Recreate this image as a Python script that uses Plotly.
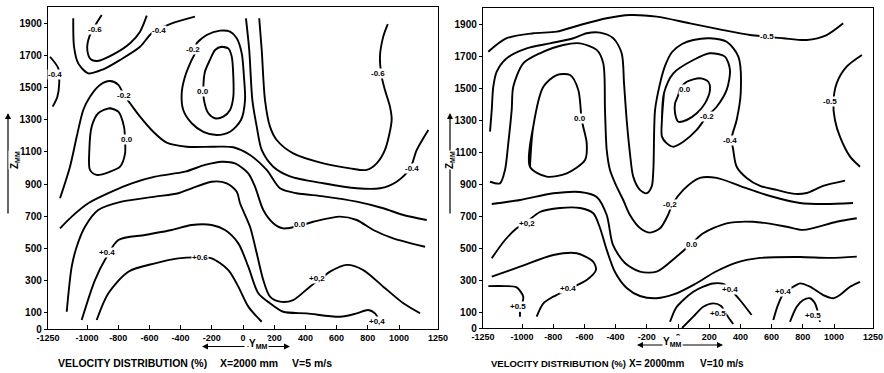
import plotly.graph_objects as go

# ================= DATA (Y in mm, Z in mm) =================
# ---- Left panel: V = 5 m/s ----
L_m06_topleft = [(-906,1950),(-985,1816),(-998,1733),(-976,1675),(-934,1665),(-831,1706),(-724,1775),(-660,1847),(-617,1946)]
L_m04_topleft = [(-1088,1930),(-1083,1753),(-1056,1650),(-992,1588),(-896,1613),(-788,1671),(-660,1753),(-585,1837),(-468,1894),(-308,1940)]
L_m04_edge = [(-1237,1691),(-1184,1619),(-1178,1526),(-1190,1443),(-1220,1381)]
L_m02_loop = [(-297,1775),(-233,1826),(-147,1853),(-83,1847),(-40,1806),(-8,1712),(6,1567),(13,1422),(-13,1298),(-83,1225),(-169,1205),(-254,1225),(-329,1278),(-383,1360),(-393,1464),(-372,1567),(-329,1671),(-308,1712)]
L_00_loop_center = [(-137,1753),(-94,1743),(-72,1691),(-62,1567),(-62,1443),(-83,1360),(-126,1319),(-179,1309),(-222,1340),(-250,1422),(-254,1505),(-244,1598),(-212,1671),(-179,1733)]
L_m04_long = [(19,1930),(40,1733),(60,1422),(88,1257),(120,1112),(194,1008),(301,948),(515,905),(729,874),(878,874),(985,915),(1071,998),(1114,1112),(1188,1236)]
L_m06_U = [(104,1930),(120,1733),(141,1422),(173,1257),(216,1174),(322,1091),(515,1029),(686,998),(793,988),(857,1029),(910,1112),(953,1298),(942,1381),(910,1484),(889,1567),(878,1694),(899,1816),(928,1894)]
L_m02_outer = [(-1173,812),(-1109,1008),(-1066,1194),(-1024,1360),(-981,1443),(-917,1516),(-853,1540),(-799,1516),(-763,1453),(-724,1402),(-660,1319),(-575,1225),(-489,1157),(-361,1132),(-190,1132),(-62,1129),(45,1081),(152,988),(237,874),(344,843),(515,824),(729,791),(899,750),(1028,708),(1178,677)]
L_00_loop_left = [(-853,1371),(-799,1350),(-763,1257),(-756,1174),(-756,1091),(-788,1008),(-853,977),(-938,957),(-981,988),(-985,1112),(-970,1257),(-928,1340)]
L_00_main = [(-1173,625),(-1098,698),(-992,781),(-842,853),(-713,905),(-564,946),(-372,977),(-244,1019),(-137,1039),(-51,1029),(34,967),(77,884),(130,739),(194,657),(258,625),(365,642),(451,666),(622,698),(729,677),(835,615),(963,563),(1167,511)]
L_p02 = [(-1130,107),(-1098,387),(-1066,511),(-1013,635),(-928,739),(-778,791),(-564,822),(-415,843),(-329,874),(-201,915),(-104,905),(-40,853),(-19,781),(45,635),(88,470),(130,304),(173,201),(237,170),(322,180),(429,263),(515,325),(558,356),(665,398),(771,366),(899,263),(1028,160),(1135,98)]
L_p04 = [(-1034,56),(-949,304),(-874,449),(-799,553),(-628,584),(-457,615),(-329,646),(-201,646),(-115,615),(-30,532),(34,387),(98,222),(173,160),(258,107),(408,97),(622,76),(729,97),(803,118),(846,97),(878,45),(891,19)]
L_p06 = [(-938,56),(-863,222),(-735,356),(-564,408),(-415,439),(-287,445),(-201,439),(-94,366),(-30,263),(34,139),(120,45)]

LEFT_OPEN = [L_m06_topleft, L_m04_topleft, L_m04_edge, L_m04_long, L_m06_U, L_m02_outer, L_00_main, L_p02, L_p04, L_p06]
LEFT_CLOSED = [L_m02_loop, L_00_loop_center, L_00_loop_left]

LEFT_LABEL_TEXT = ["-0.6", "-0.4", "-0.4", "-0.2", "-0.2", "0.0", "0.0", "-0.6", "-0.4", "0.0", "+0.4", "+0.6", "+0,2", "+0,4"]
LEFT_LABEL_Y = [-949, -537, -1205, -319, -763, -254, -746, 867, 1081, 365, -874, -276, 472, 857]
LEFT_LABEL_Z = [1861, 1857, 1578, 1737, 1453, 1474, 1174, 1584, 998, 646, 474, 443, 315, 45]

# ---- Right panel: V = 10 m/s ----
R_m05_top = [(-1216,1727),(-1098,1811),(-928,1842),(-778,1852),(-628,1894),(-457,1936),(-308,1956),(-137,1946),(77,1904),(290,1862),(462,1831),(569,1821),(675,1811),(825,1800),(953,1831),(1059,1904)]
R_m05_right = [(1179,1706),(1081,1633),(1017,1529),(996,1404),(1006,1300),(1038,1196),(1103,1071),(1167,1008)]
R_m04 = [(-1205,1227),(-1194,1363),(-1184,1508),(-1162,1602),(-1098,1686),(-970,1748),(-821,1779),(-671,1811),(-585,1842),(-500,1846),(-415,1811),(-361,1717),(-346,1529),(-329,1300),(-308,1092),(-287,946),(-244,863),(-201,842),(-169,883),(-158,988),(-147,1363),(-115,1529),(-83,1638),(-38,1725),(26,1775),(98,1800),(205,1811),(312,1789),(387,1696),(402,1467),(376,1300),(344,1186),(354,1113),(376,1008),(440,938),(526,888),(633,863),(750,838),(825,844),(931,888),(1071,921)]
R_m02 = [(-1205,914),(-1141,904),(-1109,988),(-1088,1154),(-1066,1363),(-1056,1508),(-992,1654),(-885,1717),(-735,1769),(-628,1779),(-521,1738),(-479,1654),(-468,1363),(-457,1113),(-436,988),(-393,883),(-351,800),(-308,706),(-244,625),(-179,596),(-115,623),(-64,706),(-38,769),(34,863),(141,938),(248,938),(417,881),(590,825),(782,781),(942,775),(1122,781)]
R_m02_loop = [(-103,1300),(-90,1467),(-30,1592),(98,1675),(205,1717),(301,1696),(333,1613),(312,1488),(248,1383),(184,1321),(120,1238),(34,1164),(-30,1133),(-72,1154),(-103,1196)]
R_00_loop_center = [(13,1500),(56,1539),(141,1561),(194,1539),(205,1488),(173,1404),(120,1342),(56,1300),(2,1289),(-19,1342),(-19,1404),(2,1456)]
R_00_loop_left = [(-949,1008),(-928,1258),(-863,1508),(-778,1581),(-692,1581),(-639,1488),(-617,1300),(-585,1154),(-596,1050),(-713,967),(-842,946)]
R_00 = [(-1194,775),(-1013,800),(-799,842),(-628,850),(-521,819),(-457,706),(-417,519),(-340,406),(-244,352),(-137,352),(-19,438),(88,529),(162,592),(312,654),(483,664),(697,633),(803,613),(1017,664),(1146,686)]
R_p02 = [(-1194,436),(-1109,550),(-1034,623),(-970,663),(-885,725),(-756,750),(-628,750),(-543,717),(-500,625),(-457,488),(-404,350),(-329,250),(-244,200),(-137,186),(-19,213),(109,275),(237,350),(365,406),(526,438),(782,444),(974,438),(1146,446)]
R_p04_arch = [(-1194,321),(-1013,383),(-799,456),(-649,467),(-543,414),(-526,363),(-585,300),(-692,248),(-799,196),(-863,154),(-906,71)]
R_p05_hook = [(-1216,262),(-1109,262),(-1034,254),(-992,196),(-1000,150)]
R_p05_tick = [(-1013,102),(-1013,71)]
R_p04_center = [(-51,39),(-13,125),(34,175),(96,225),(162,258),(224,278),(290,275),(333,244),(397,175),(472,81)]
R_p05_center = [(26,0),(98,71),(162,133),(226,154),(276,138),(308,88),(354,25)]
R_p04_right = [(611,50),(641,144),(679,219),(739,258),(782,279),(846,258),(931,206),(996,186),(1038,206),(1103,258),(1167,289)]
R_p05_right = [(718,39),(761,133),(803,175),(846,186),(878,154),(891,119),(910,38)]

RIGHT_OPEN = [R_m05_top, R_m05_right, R_m04, R_m02, R_00, R_p02, R_p04_arch, R_p05_hook, R_p05_tick, R_p04_center, R_p05_center, R_p04_right, R_p05_right]
RIGHT_CLOSED = [R_m02_loop, R_00_loop_center, R_00_loop_left]

RIGHT_LABEL_TEXT = ["-0.5", "-0.5", "-0.4", "-0.2", "0.0", "0.0", "-0,2", "+0,2", "0.0", "+0.4", "+0.4", "+0.4", "+0.5", "+0.5", "+0.5"]
RIGHT_LABEL_Y = [569, 974, 333, 184, 45, -628, -51, -970, 88, -703, 333, 675, -1024, 258, 867]
RIGHT_LABEL_Z = [1821, 1414, 1175, 1321, 1492, 1311, 769, 654, 519, 248, 238, 227, 133, 92, 81]

X_TICKS = [-1250, -1000, -800, -600, -400, -200, 0, 200, 400, 600, 800, 1000, 1250]
X_TICK_TEXT = ["-1250", "-1000", "-800", "-600", "-400", "-200", "0", "200", "400", "600", "800", "1000", "1250"]
Z_TICKS = [0, 100, 300, 500, 700, 900, 1100, 1300, 1500, 1700, 1900]

# ================= FIGURE =================
W, H = 884, 373
fig = go.Figure()

def add_curve(curve, xa, ya, closed=False):
    ys = [p[0] for p in curve]
    zs = [p[1] for p in curve]
    if closed:
        ys = ys + [ys[0], ys[1]]
        zs = zs + [zs[0], zs[1]]
    fig.add_trace(go.Scatter(x=ys, y=zs, mode="lines", xaxis=xa, yaxis=ya,
                             line=dict(color="black", width=1.9, shape="spline", smoothing=0.8),
                             hoverinfo="skip", showlegend=False))

for c in LEFT_OPEN:
    add_curve(c, "x", "y")
for c in LEFT_CLOSED:
    add_curve(c, "x", "y", closed=True)
for c in RIGHT_OPEN:
    add_curve(c, "x2", "y2")
for c in RIGHT_CLOSED:
    add_curve(c, "x2", "y2", closed=True)

FONT = "Liberation Sans, Arial"
lab_font = dict(family=FONT, size=8, color="black", weight="bold")
annots = []
for t, yv, zv in zip(LEFT_LABEL_TEXT, LEFT_LABEL_Y, LEFT_LABEL_Z):
    annots.append(dict(x=yv, y=zv, xref="x", yref="y", text=t, showarrow=False,
                       font=lab_font, bgcolor="white", borderpad=0))
for t, yv, zv in zip(RIGHT_LABEL_TEXT, RIGHT_LABEL_Y, RIGHT_LABEL_Z):
    annots.append(dict(x=yv, y=zv, xref="x2", yref="y2", text=t, showarrow=False,
                       font=lab_font, bgcolor="white", borderpad=0))

def px(xp):
    return xp / W

def py(yp):
    return 1 - yp / H

for (x0, txt, fs) in [(56, "VELOCITY DISTRIBUTION (%)", 10.5), (218, "X=2000 mm", 10.5), (290, "V=5 m/s", 10.5),
                      (489, "VELOCITY DISTRIBUTION (%)", 9.5), (627, "X= 2000mm", 10), (698, "V=10 m/s", 10)]:
    annots.append(dict(x=px(x0), y=py(363), xref="paper", yref="paper", text=txt, showarrow=False,
                       xanchor="left", yanchor="middle",
                       font=dict(family=FONT, size=fs, color="black", weight="bold")))

# Y_MM arrows and labels
for (cx, xl, xr, yl) in [(246, 202, 290, 346.5), (681, 637, 723, 345)]:
    annots.append(dict(x=px(xl), y=py(yl), xref="paper", yref="paper", ax=(cx - xl), ay=0,
                       showarrow=True, arrowhead=2, arrowsize=1, arrowwidth=1.2, arrowcolor="black", text=""))
    annots.append(dict(x=px(xr), y=py(yl), xref="paper", yref="paper", ax=-(xr - cx), ay=0,
                       showarrow=True, arrowhead=2, arrowsize=1, arrowwidth=1.2, arrowcolor="black", text=""))
    annots.append(dict(x=px(cx + 2), y=py(yl + 4), xref="paper", yref="paper", text="Y<sub>MM</sub>",
                       showarrow=False, bgcolor="white", borderpad=0,
                       font=dict(family=FONT, size=10, color="black", weight="bold")))

# Z_MM vertical arrows
for xz in (8, 450):
    annots.append(dict(x=px(xz), y=py(113), xref="paper", yref="paper", ax=0, ay=(215 - 113),
                       showarrow=True, arrowhead=2, arrowsize=1, arrowwidth=1.2, arrowcolor="black", text=""))
    annots.append(dict(x=px(xz), y=py(160), xref="paper", yref="paper", text="Z<sub>MM</sub>",
                       textangle=-90, showarrow=False, bgcolor="white", borderpad=0,
                       font=dict(family=FONT, size=10, color="black", weight="bold")))

xax = dict(range=[-1250, 1250], tickvals=X_TICKS, ticktext=X_TICK_TEXT, showline=True, linecolor="black",
           linewidth=1.4, mirror=True, ticks="inside", ticklen=4, tickcolor="black", showgrid=False,
           zeroline=False, tickfont=dict(family=FONT, size=9, color="black", weight="bold"),
           fixedrange=True, automargin=False)
yax = dict(range=[0, 2000], tickvals=Z_TICKS, showline=True, linecolor="black", linewidth=1.4,
           mirror=True, ticks="outside", ticklen=3, tickcolor="black", showgrid=False, zeroline=False,
           tickfont=dict(family=FONT, size=10, color="black", weight="bold"),
           fixedrange=True, automargin=False)

fig.update_layout(
    width=W, height=H, margin=dict(l=0, r=0, t=0, b=0, pad=0, autoexpand=False),
    paper_bgcolor="white", plot_bgcolor="white", showlegend=False,
    xaxis=dict(domain=[48 / W, 438 / W], anchor="y", **xax),
    yaxis=dict(domain=[1 - 329 / H, 1 - 7 / H], anchor="x", **yax),
    xaxis2=dict(domain=[483 / W, 873 / W], anchor="y2", **xax),
    yaxis2=dict(domain=[1 - 328 / H, 1 - 8 / H], anchor="x2", **yax),
    annotations=annots,
)

fig.write_html("out.html")
